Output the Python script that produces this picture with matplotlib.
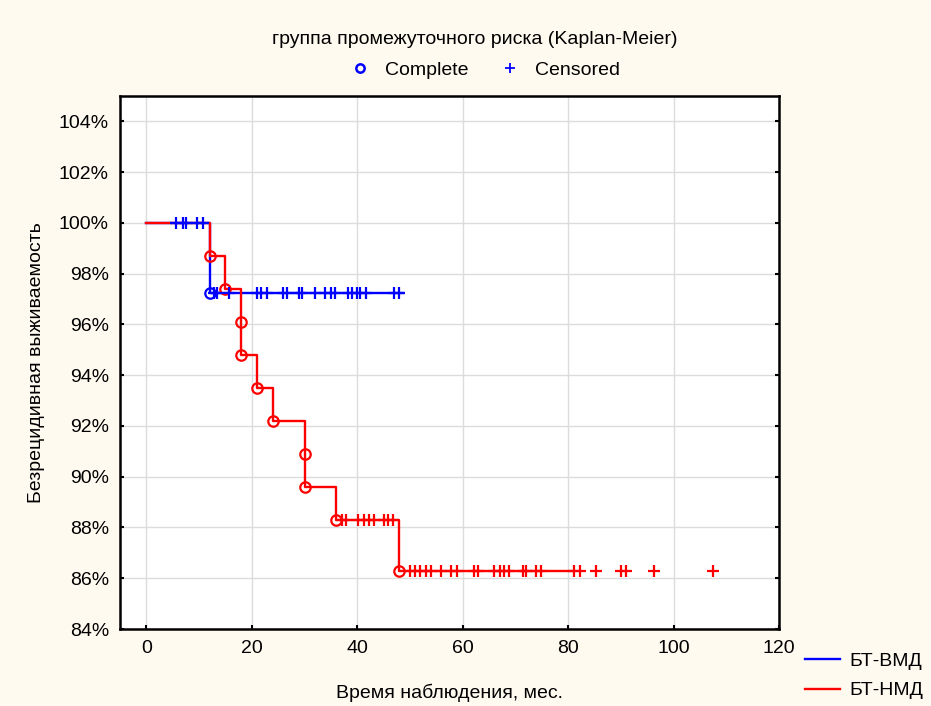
import numpy as np
import matplotlib
matplotlib.use("Agg")
import matplotlib.pyplot as plt
from matplotlib.lines import Line2D

plt.rcParams['font.family'] = ['Liberation Sans', 'DejaVu Sans']
plt.rcParams['font.size'] = 14

# БТ-ВМД (blue)
vmd_event_t = [12]
vmd_event_s = [97.25]
vmd_cens_t = [5.7, 6.9, 7.6, 9.7, 10.7,
              12.8, 13.4, 15.7, 21.0, 21.7, 22.8, 26.0, 26.6, 29.0, 29.6, 32.0,
              33.9, 35.0, 35.8, 38.3, 39.0, 39.9, 40.6, 41.7, 46.9, 47.9]
vmd_line_end = 48.6

# БТ-НМД (red)
nmd_event_t = [12, 15, 18, 18, 21, 24, 30, 30, 36, 48]
nmd_event_s = [98.7, 97.4, 96.1, 94.8, 93.5, 92.2, 90.9, 89.6, 88.3, 86.3]
nmd_cens_t = [37.1, 37.9, 40.2, 41.2, 42.2, 43.1, 45.0, 45.9, 46.8,
              50.0, 50.9, 51.9, 53.0, 53.9, 55.9, 57.7, 58.9, 62.1, 63.0, 66.0,
              67.0, 67.9, 68.8, 71.4, 72.0, 73.9, 74.8, 81.2, 82.2, 85.3, 90.1,
              91.0, 96.3, 107.4]
nmd_line_end = 81.2


def surv_at(t, ev_t, ev_s):
    s = 100.0
    for et, es in zip(ev_t, ev_s):
        if et <= t:
            s = es
    return s


def step_path(ev_t, ev_s, end):
    xs, ys = [0], [100.0]
    for et, es in zip(ev_t, ev_s):
        xs += [et, et]
        ys += [ys[-1], es]
    xs.append(end)
    ys.append(ys[-1])
    return xs, ys


fig = plt.figure(figsize=(9.31, 7.06), dpi=100, facecolor='#FFFAF0')
ax = fig.add_axes([120 / 931, 1 - 629 / 706, 659 / 931, 533 / 706])
ax.set_facecolor('white')

groups = [
    (vmd_event_t, vmd_event_s, vmd_cens_t, vmd_line_end, 'blue'),
    (nmd_event_t, nmd_event_s, nmd_cens_t, nmd_line_end, 'red'),
]
for ev_t, ev_s, c_t, end, col in groups:
    xs, ys = step_path(ev_t, ev_s, end)
    ax.plot(xs, ys, color=col, lw=1.7, zorder=3)
for ev_t, ev_s, c_t, end, col in groups[::-1]:
    ax.plot(ev_t, ev_s, 'o', mfc='none', mec=col, ms=7.5, mew=1.6, zorder=4)
    cs = [surv_at(t, ev_t, ev_s) for t in c_t]
    ax.plot(c_t, cs, '+', color=col, ms=8, mew=1.6, zorder=4)

ax.set_xlim(-5, 120)
ax.set_ylim(84, 105)
ax.set_xticks(np.arange(0, 121, 20))
ax.set_yticks(np.arange(84, 105, 2))
ax.set_yticklabels([f'{v}%' for v in range(84, 105, 2)])
ax.grid(True, color='#dcdcdc', lw=1)
ax.set_axisbelow(True)
ax.tick_params(direction='in', length=3, width=1.5, top=False, right=True,
               labelsize=14, pad=8)
for sp in ax.spines.values():
    sp.set_linewidth(1.8)

ax.set_xlabel('Время наблюдения, мес.', fontsize=14, labelpad=19)
ax.set_ylabel('Безрецидивная выживаемость', fontsize=14, labelpad=10)

fig.text(475 / 931, 1 - 40 / 706, 'группа промежуточного риска (Kaplan-Meier)',
         ha='center', va='center', fontsize=14)
top_handles = [
    Line2D([], [], ls='none', marker='o', mfc='none', mec='blue', ms=6, mew=1.8),
    Line2D([], [], ls='none', marker='+', color='blue', ms=7, mew=1.3),
]
fig.legend(top_handles, ['Complete', 'Censored'], loc='center',
           bbox_to_anchor=(485 / 931, 1 - 70 / 706), ncol=2, frameon=False,
           fontsize=14, handlelength=1.0, handletextpad=0.8, columnspacing=1.6)

side_handles = [Line2D([], [], color='blue', lw=1.7),
                Line2D([], [], color='red', lw=1.7)]
fig.legend(side_handles, ['БТ-ВМД', 'БТ-НМД'], loc='center left',
           bbox_to_anchor=(797 / 931, 1 - 676 / 706), frameon=False,
           fontsize=14, handlelength=1.8, handletextpad=0.5, labelspacing=0.6,
           borderaxespad=0)

fig.savefig('out.png', dpi=100, facecolor=fig.get_facecolor())
